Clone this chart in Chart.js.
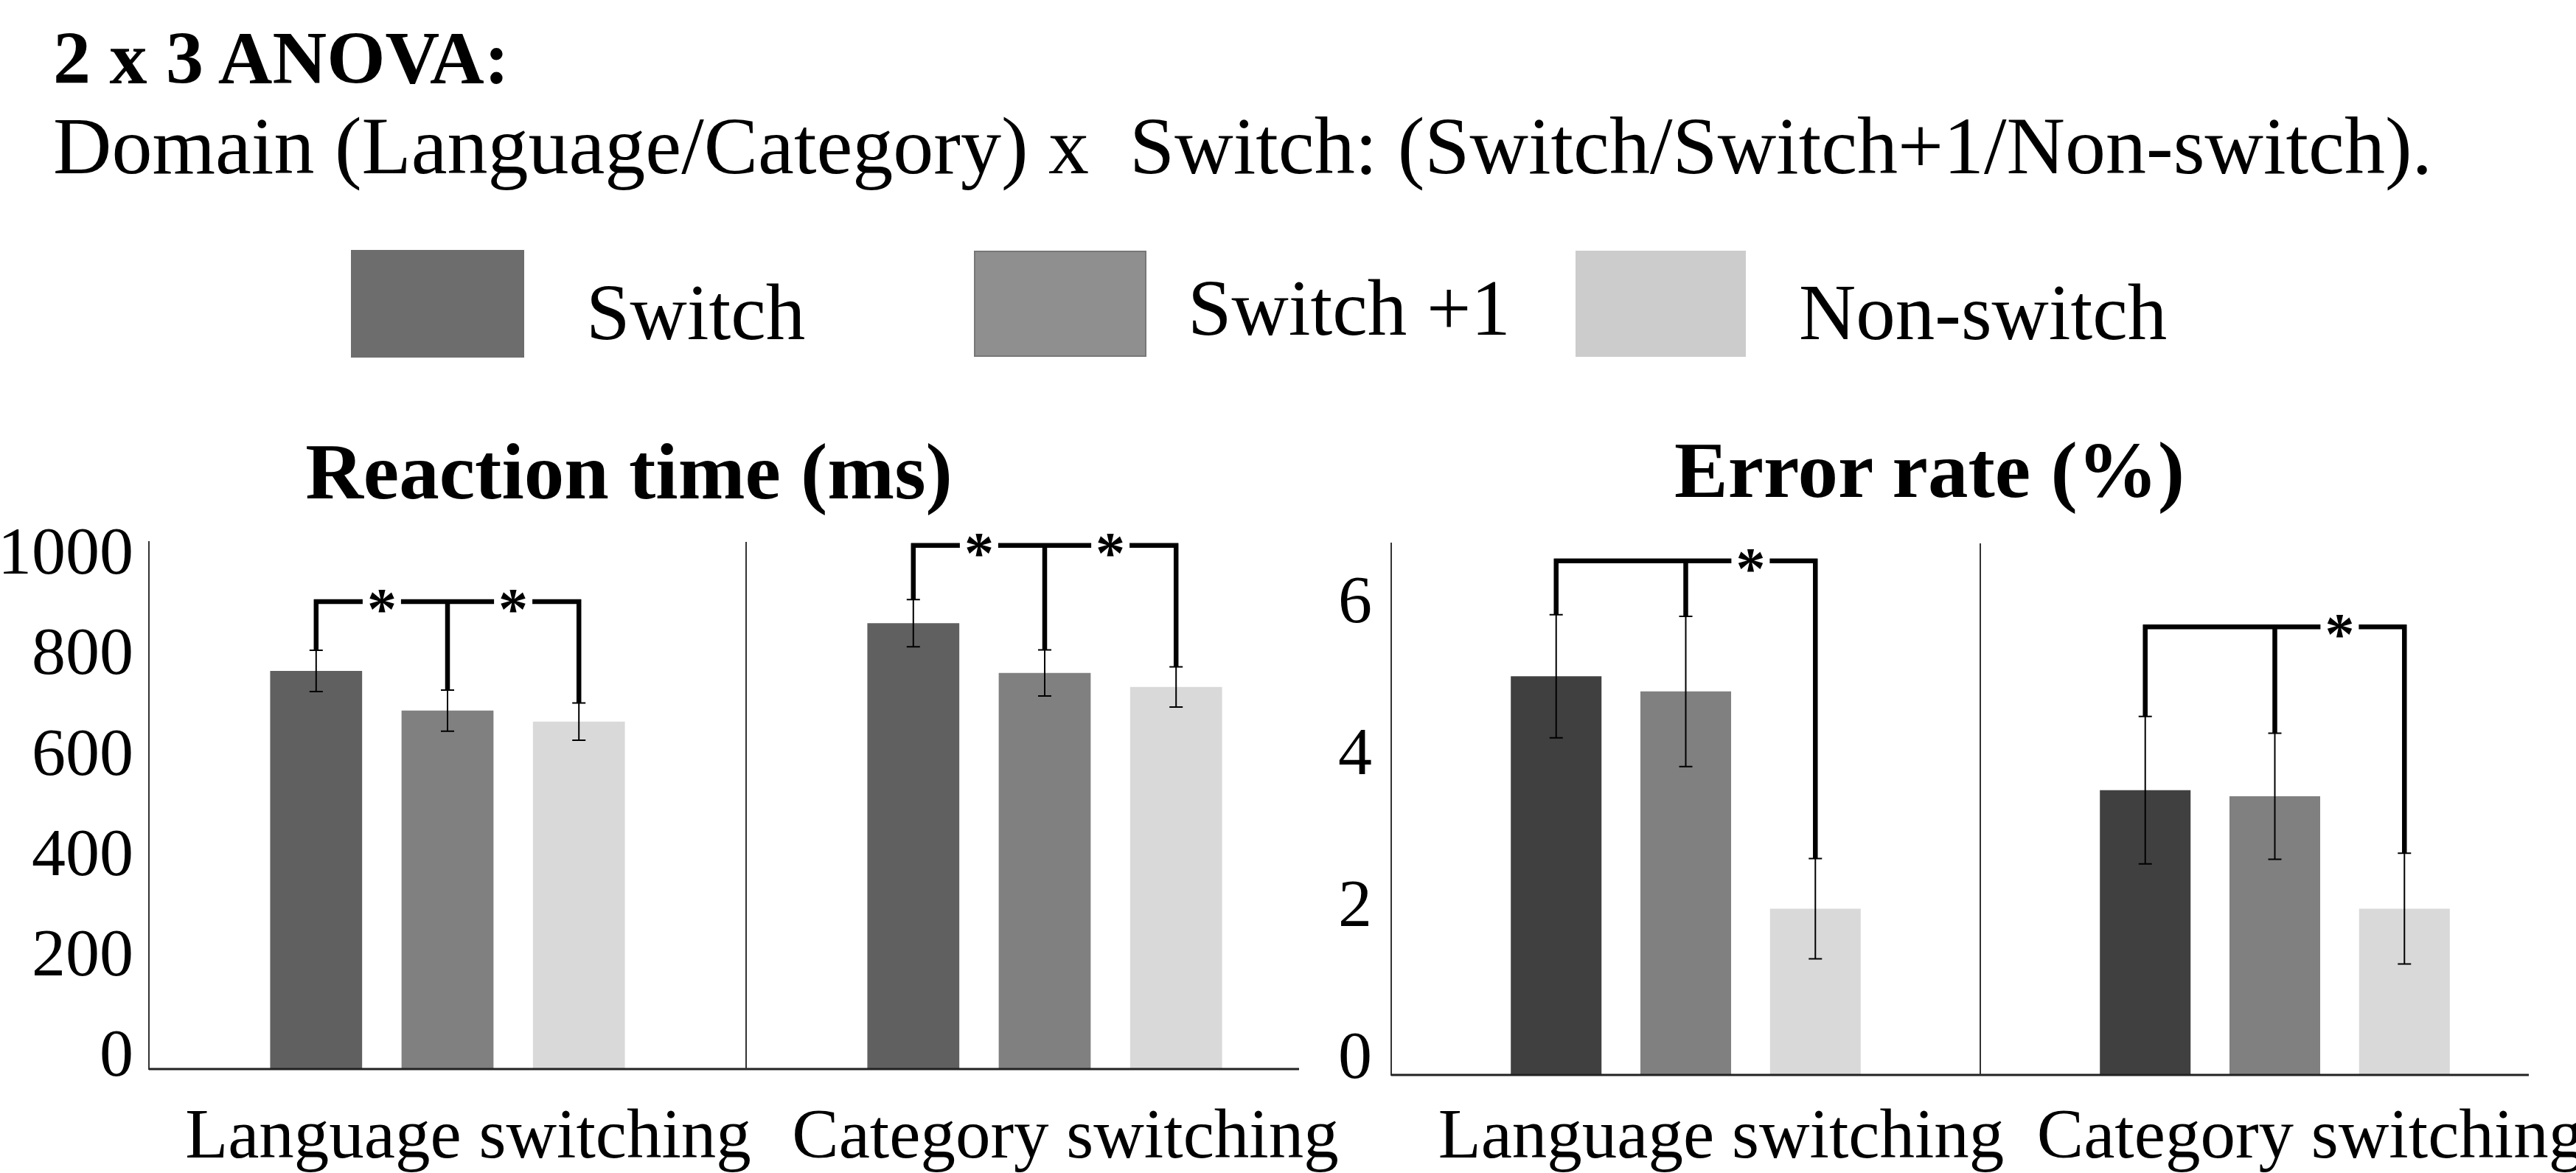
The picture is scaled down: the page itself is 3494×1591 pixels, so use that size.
<!DOCTYPE html>
<html>
<head>
<meta charset="utf-8">
<script src="https://cdn.jsdelivr.net/npm/chart.js@4.4.1/dist/chart.umd.min.js"></script>
<style>
  body { margin: 0; background: #fff; }
  #page { position: relative; width: 3494px; height: 1591px; overflow: hidden; background: #fff;
          font-family: 'Liberation Serif', serif; color: #000; }
  .txt { position: absolute; white-space: pre; line-height: 1; }
  .swatch { position: absolute; box-sizing: border-box; }
  canvas { position: absolute; }
</style>
</head>
<body>
<div id="page">
  <div class="txt" style="left:72px; top:28px; font-size:102px; font-weight:bold;">2 x 3 ANOVA:</div>
  <div class="txt" style="left:72px; top:143px; font-size:110px;">Domain (Language/Category) x  Switch: (Switch/Switch+1/Non-switch).</div>

  <div class="swatch" style="left:476px; top:339px; width:235px; height:146px; background:#6d6d6d;"></div>
  <div class="txt" style="left:795px; top:371px; font-size:107px;">Switch</div>
  <div class="swatch" style="left:1321px; top:340px; width:234px; height:144px; background:#8f8f8f; border:2px solid #777;"></div>
  <div class="txt" style="left:1611px; top:365px; font-size:107px;">Switch +1</div>
  <div class="swatch" style="left:2137px; top:340px; width:231px; height:144px; background:#cccccc;"></div>
  <div class="txt" style="left:2440px; top:371px; font-size:107px;">Non-switch</div>

  <div class="txt" style="left:853px; top:585px; font-size:109px; font-weight:bold; transform:translateX(-50%);">Reaction time (ms)</div>
  <div class="txt" style="left:2617px; top:583px; font-size:109px; font-weight:bold; transform:translateX(-50%);">Error rate (%)</div>

  <canvas id="rtChart" width="1840" height="891" style="left:0px; top:700px;"></canvas>
  <canvas id="erChart" width="1704" height="891" style="left:1790px; top:700px;"></canvas>
</div>

<script>
// --- DATA ---
const categories = ['Language switching', 'Category switching'];
const seriesNames = ['Switch', 'Switch +1', 'Non-switch'];

// reaction time (ms)
const rtSwitch = [793, 888];
const rtSwitchPlus1 = [714, 789];
const rtNonSwitch = [692, 761];
const rtErrSwitch = [41, 47];
const rtErrSwitchPlus1 = [41, 46];
const rtErrNonSwitch = [37, 40];
const rtTicks = [0, 200, 400, 600, 800, 1000];

// error rate (%)
const erSwitch = [5.25, 3.75];
const erSwitchPlus1 = [5.05, 3.67];
const erNonSwitch = [2.19, 2.19];
const erErrSwitch = [0.81, 0.97];
const erErrSwitchPlus1 = [0.99, 0.83];
const erErrNonSwitch = [0.66, 0.73];
const erTicks = [0, 2, 4, 6];

// significance brackets: category, bracket level, pairs of series with a star between them
const rtBrackets = [
  { cat: 0, level: 931, stars: [[0, 1], [1, 2]] },
  { cat: 1, level: 1043, stars: [[0, 1], [1, 2]] }
];
const erBrackets = [
  { cat: 0, level: 6.77, stars: [[1, 2]] },
  { cat: 1, level: 5.9, stars: [[1, 2]] }
];

Chart.defaults.font.family = "'Liberation Serif', serif";
Chart.defaults.color = '#000';

// --- PLUGIN: baseline, separator, error bars, brackets ---
const extrasPlugin = {
  id: 'extras',
  afterDatasetsDraw(chart, args, opts) {
    const ctx = chart.ctx;
    const x = chart.scales.x, y = chart.scales.y;
    const area = chart.chartArea;
    ctx.save();

    // baseline (stops a little short of the plot edge, as in the original)
    ctx.strokeStyle = '#222';
    ctx.lineWidth = 3;
    ctx.beginPath();
    ctx.moveTo(area.left, area.bottom);
    ctx.lineTo(area.right - opts.baselineTrim, area.bottom);
    ctx.stroke();

    // separator between the two groups
    const sepX = (x.getPixelForValue(0) + x.getPixelForValue(1)) / 2;
    ctx.strokeStyle = '#333';
    ctx.lineWidth = 2;
    ctx.beginPath();
    ctx.moveTo(sepX, area.top);
    ctx.lineTo(sepX, area.bottom);
    ctx.stroke();

    // error bars
    ctx.strokeStyle = '#000';
    ctx.lineWidth = 2;
    chart.data.datasets.forEach((ds, i) => {
      chart.getDatasetMeta(i).data.forEach((bar, j) => {
        const top = y.getPixelForValue(ds.data[j] + ds.errors[j]);
        const bot = y.getPixelForValue(ds.data[j] - ds.errors[j]);
        ctx.beginPath();
        ctx.moveTo(bar.x, top); ctx.lineTo(bar.x, bot);
        ctx.moveTo(bar.x - 9, top); ctx.lineTo(bar.x + 9, top);
        ctx.moveTo(bar.x - 9, bot); ctx.lineTo(bar.x + 9, bot);
        ctx.stroke();
      });
    });

    // significance brackets
    opts.brackets.forEach(b => {
      const ly = y.getPixelForValue(b.level);
      const xs = chart.data.datasets.map((ds, i) => chart.getDatasetMeta(i).data[b.cat].x);
      ctx.strokeStyle = '#000';
      ctx.lineWidth = 6.5;
      ctx.beginPath();
      ctx.moveTo(xs[0] - 3, ly); ctx.lineTo(xs[xs.length - 1] + 3, ly);
      chart.data.datasets.forEach((ds, i) => {
        ctx.moveTo(xs[i], ly - 3);
        ctx.lineTo(xs[i], y.getPixelForValue(ds.data[b.cat] + ds.errors[b.cat]));
      });
      ctx.stroke();
      b.stars.forEach(([a, c]) => {
        const sx = (xs[a] + xs[c]) / 2;
        ctx.fillStyle = '#fff';
        ctx.fillRect(sx - 26, ly - 7, 52, 14);
        ctx.fillStyle = '#000';
        ctx.font = "bold 80px 'Liberation Serif', serif";
        ctx.textAlign = 'center';
        ctx.textBaseline = 'alphabetic';
        ctx.fillText('*', sx, ly + 37);
      });
    });
    ctx.restore();
  }
};

// --- CHART BUILDER ---
function makePanel(id, values, errors, colors, cfg) {
  const datasets = seriesNames.map((name, i) => ({
    label: name,
    data: values[i],
    errors: errors[i],
    backgroundColor: colors[i],
    borderWidth: 0,
    categoryPercentage: 0.66,
    barPercentage: 0.70
  }));

  return new Chart(document.getElementById(id), {
    type: 'bar',
    data: { labels: categories, datasets: datasets },
    options: {
      responsive: false,
      animation: false,
      devicePixelRatio: 1,
      layout: { padding: { top: cfg.padTop, right: cfg.padRight, left: 0, bottom: 0 } },
      plugins: {
        legend: { display: false },
        tooltip: { enabled: false },
        extras: { brackets: cfg.brackets, baselineTrim: cfg.baselineTrim }
      },
      scales: {
        x: {
          grid: { display: false },
          border: { display: false },
          ticks: { font: { size: 95 }, padding: cfg.xPad, labelOffset: cfg.xLabelOffset, maxRotation: 0, autoSkip: false },
          afterFit: s => { s.height = cfg.xHeight; s.paddingLeft = 0; s.paddingRight = 0; }
        },
        y: {
          min: 0,
          max: cfg.yMax,
          grid: { display: false },
          border: { color: '#333', width: 2 },
          ticks: { font: { size: 92 }, padding: cfg.yPad, labelOffset: cfg.yLabelOffset, callback: v => String(v) },
          afterBuildTicks: s => { s.ticks = cfg.ticks.map(v => ({ value: v })); },
          afterFit: s => { s.width = cfg.yWidth; s.paddingTop = 0; s.paddingBottom = 0; }
        }
      }
    },
    plugins: [extrasPlugin]
  });
}

makePanel('rtChart',
  [rtSwitch, rtSwitchPlus1, rtNonSwitch],
  [rtErrSwitch, rtErrSwitchPlus1, rtErrNonSwitch],
  ['#606060', '#808080', '#d9d9d9'],
  { yMax: 1050, ticks: rtTicks, brackets: rtBrackets, padTop: 35, padRight: 18, baselineTrim: 60,
    xHeight: 141, yWidth: 202, xPad: 30, yPad: 13, xLabelOffset: 28, yLabelOffset: -15 });

makePanel('erChart',
  [erSwitch, erSwitchPlus1, erNonSwitch],
  [erErrSwitch, erErrSwitchPlus1, erErrNonSwitch],
  ['#404040', '#808080', '#d9d9d9'],
  { yMax: 7, ticks: erTicks, brackets: erBrackets, padTop: 37, padRight: 9, baselineTrim: 55,
    xHeight: 133, yWidth: 97, xPad: 22, yPad: 18, xLabelOffset: 48, yLabelOffset: -20 });
</script>
</body>
</html>
